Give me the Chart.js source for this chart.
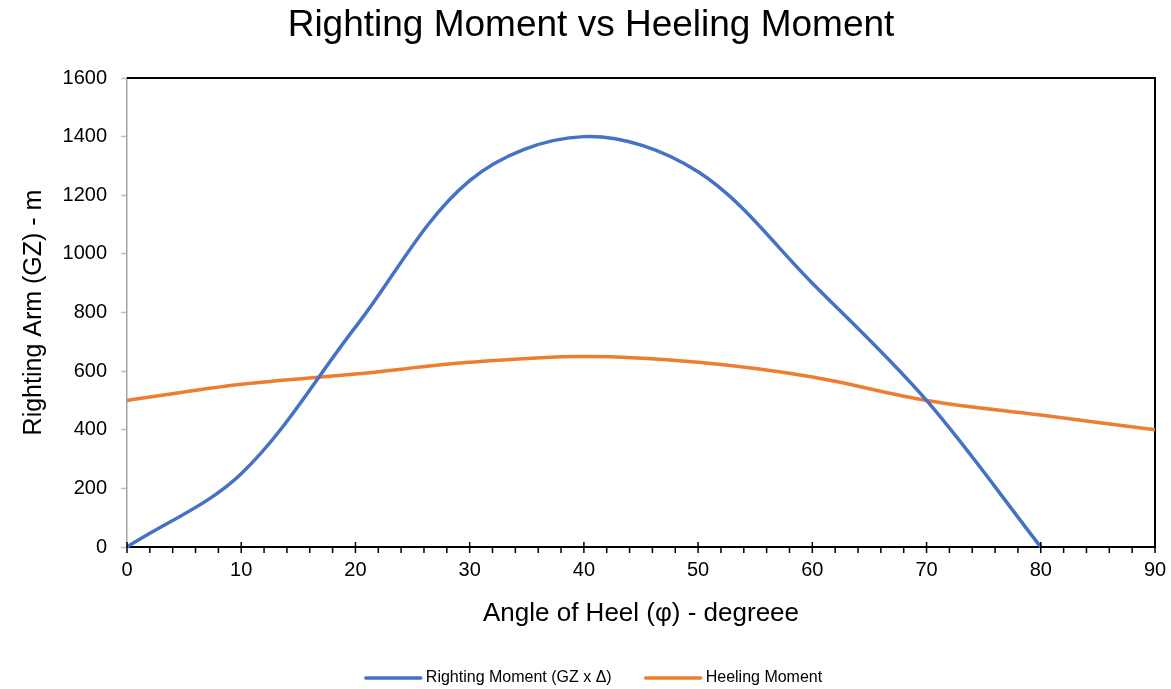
<!DOCTYPE html>
<html>
<head>
<meta charset="utf-8">
<title>Righting Moment vs Heeling Moment</title>
<script src="https://cdn.jsdelivr.net/npm/chart.js@4.4.1/dist/chart.umd.min.js"></script>
<style>
  html, body { margin: 0; padding: 0; background: #fff; }
</style>
</head>
<body>
<canvas id="chart" width="1171" height="689"></canvas>
<script>
// heel angle in degrees
const angles = [0, 10, 20, 30, 40, 50, 60, 70, 80, 90];
// GZ x displacement
const righting = [0, 250, 750, 1250, 1400, 1280, 900, 500, 0];
const heeling = [500, 555, 590, 630, 650, 630, 580, 500, 450, 400];

const chartTitle = 'Righting Moment vs Heeling Moment';
const seriesNames = ['Righting Moment (GZ x \u0394)', 'Heeling Moment'];
const seriesColors = ['#4472C4', '#ED7D31'];

const FONT = '"Liberation Sans", Arial, Helvetica, sans-serif';

const toPoints = vals => vals.map((v, i) => ({ x: angles[i], y: v }));

// chart heading, centred over the whole figure
const heading = {
  id: 'heading',
  afterDraw(chart) {
    const { ctx } = chart;
    ctx.save();
    ctx.font = '37px ' + FONT;
    ctx.fillStyle = '#000';
    ctx.textAlign = 'center';
    ctx.textBaseline = 'middle';
    ctx.fillText(chartTitle, 591, 26);
    ctx.restore();
  }
};

// black frame on top and right of plot area
const plotFrame = {
  id: 'plotFrame',
  beforeDatasetsDraw(chart) {
    const { ctx, chartArea: a } = chart;
    ctx.save();
    ctx.strokeStyle = '#000';
    ctx.lineWidth = 2;
    ctx.beginPath();
    ctx.moveTo(a.left, a.top);
    ctx.lineTo(a.right, a.top);
    ctx.lineTo(a.right, a.bottom);
    ctx.stroke();
    ctx.restore();
  }
};

// x tick marks: majors cross the axis, minors every 2 deg hang below
const xTickMarks = {
  id: 'xTickMarks',
  afterDraw(chart) {
    const { ctx } = chart;
    const sc = chart.scales.x;
    const y0 = chart.chartArea.bottom;
    ctx.save();
    ctx.strokeStyle = '#000';
    ctx.lineWidth = 1.5;
    ctx.beginPath();
    for (let v = sc.min; v <= sc.max; v += 2) {
      const px = sc.getPixelForValue(v);
      const major = v % 10 === 0;
      ctx.moveTo(px, major ? y0 - 5 : y0);
      ctx.lineTo(px, y0 + 6);
    }
    ctx.stroke();
    ctx.restore();
  }
};

// legend row under the axis title
const lineLegend = {
  id: 'lineLegend',
  afterDraw(chart) {
    const { ctx } = chart;
    const sets = chart.data.datasets;
    const lineLen = 55, gap = 5, spacing = 34, y = 678;
    ctx.save();
    ctx.font = '16px ' + FONT;
    const widths = sets.map(ds => lineLen + gap + ctx.measureText(ds.label).width);
    const total = widths.reduce((a, b) => a + b, 0) + spacing * (sets.length - 1);
    let x = 594 - total / 2;
    sets.forEach((ds, i) => {
      ctx.strokeStyle = ds.borderColor;
      ctx.lineWidth = 3.5;
      ctx.lineCap = 'round';
      ctx.beginPath();
      ctx.moveTo(x, y);
      ctx.lineTo(x + lineLen, y);
      ctx.stroke();
      ctx.fillStyle = '#000';
      ctx.textBaseline = 'middle';
      ctx.textAlign = 'left';
      ctx.fillText(ds.label, x + lineLen + gap, y);
      x += widths[i] + spacing;
    });
    ctx.restore();
  }
};

new Chart(document.getElementById('chart'), {
  type: 'line',
  data: {
    datasets: [
      {
        label: seriesNames[0],
        data: toPoints(righting),
        borderColor: seriesColors[0],
        backgroundColor: seriesColors[0],
        borderWidth: 3.5,
        pointRadius: 0,
        tension: 0.34,
        clip: false
      },
      {
        label: seriesNames[1],
        data: toPoints(heeling),
        borderColor: seriesColors[1],
        backgroundColor: seriesColors[1],
        borderWidth: 3.5,
        pointRadius: 0,
        tension: 0.34,
        clip: false
      }
    ]
  },
  options: {
    responsive: false,
    animation: false,
    layout: { padding: { left: 0, right: 16, top: 78, bottom: 0 } },
    plugins: {
      legend: { display: false },
      tooltip: { enabled: false },
      title: { display: false }
    },
    scales: {
      x: {
        type: 'linear',
        min: 0,
        max: 90,
        ticks: {
          stepSize: 10,
          padding: 11,
          color: '#000',
          font: { family: FONT, size: 20 }
        },
        grid: { display: false, drawTicks: false },
        border: { display: true, color: '#000', width: 2 },
        title: {
          display: true,
          text: 'Angle of Heel (\u03c6) - degreee',
          color: '#000',
          font: { family: FONT, size: 26, lineHeight: 1.2 },
          padding: { top: 0, bottom: 60 }
        },
        afterFit(s) {
          s.height = 142;
          s.paddingLeft = 0;
          s.paddingRight = 16;
        }
      },
      y: {
        min: 0,
        max: 1600,
        ticks: {
          stepSize: 200,
          padding: 14,
          color: '#000',
          font: { family: FONT, size: 20 },
          callback: v => String(v)
        },
        grid: {
          drawOnChartArea: false,
          drawTicks: true,
          tickLength: 6,
          tickColor: '#bfbfbf',
          tickWidth: 1.5
        },
        border: { display: true, color: '#a6a6a6', width: 1.5 },
        title: {
          display: true,
          text: 'Righting Arm (GZ) - m',
          color: '#000',
          font: { family: FONT, size: 25, lineHeight: 1.2 },
          padding: { top: 19, bottom: 0 }
        },
        afterFit(s) { s.width = 127; }
      }
    }
  },
  plugins: [heading, plotFrame, xTickMarks, lineLegend]
});
</script>
</body>
</html>
